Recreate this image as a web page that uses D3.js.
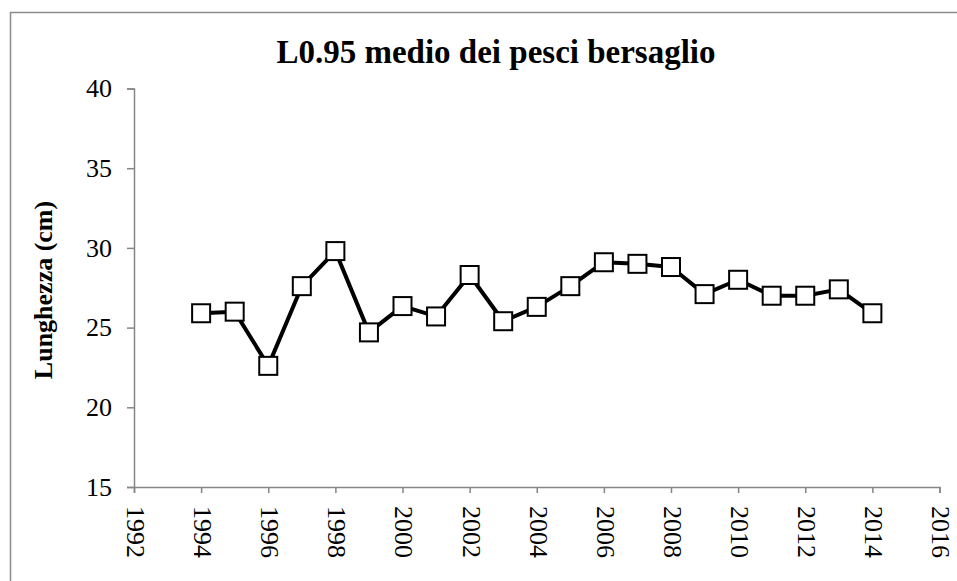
<!DOCTYPE html>
<html>
<head>
<meta charset="utf-8">
<script src="https://cdn.jsdelivr.net/npm/d3@7"></script>
<style>
  body { margin: 0; background: #fff; }
  text { font-family: "Liberation Serif", "Times New Roman", serif; }
</style>
</head>
<body>
<svg id="chart" width="957" height="581"></svg>
<script>
var years = [1994, 1995, 1996, 1997, 1998, 1999, 2000, 2001, 2002, 2003, 2004,
             2005, 2006, 2007, 2008, 2009, 2010, 2011, 2012, 2013, 2014]
var lengths = [25.9, 26.0, 22.6, 27.6, 29.8, 24.7, 26.35, 25.7, 28.3, 25.4, 26.3,
               27.6, 29.1, 29.0, 28.8, 27.1, 28.0, 27.0, 27.0, 27.4, 25.9]
var xTicks = d3.range(1992, 2017, 2)
var yTicks = [15, 20, 25, 30, 35, 40]

var svg = d3.select('#chart')

// chart frame
svg.append('rect')
   .attr('x', 10.5).attr('y', 12.5)
   .attr('width', 960).attr('height', 600)
   .attr('fill', 'none')
   .attr('stroke', '#8c8c8c')
   .attr('stroke-width', 1.5)

var x = d3.scaleLinear().domain([1992, 2016]).range([134, 939.5])
var y = d3.scaleLinear().domain([15, 40]).range([487, 88.5])

var axisColor = '#868686'

var yAxis = svg.append('g')
  .attr('transform', 'translate(' + x(1992) + ',0)')
  .call(d3.axisLeft(y).tickValues(yTicks).tickSize(7).tickPadding(15))
yAxis.select('.domain').attr('stroke', axisColor).attr('stroke-width', 1.5)
yAxis.selectAll('.tick line').attr('stroke', axisColor).attr('stroke-width', 1.5)
yAxis.selectAll('.tick text')
  .attr('font-size', 26)
  .attr('fill', '#000')

var xAxis = svg.append('g')
  .attr('transform', 'translate(0,' + y(15) + ')')
  .call(d3.axisBottom(x).tickValues(xTicks).tickFormat(d3.format('d')).tickSize(6))
xAxis.select('.domain').attr('stroke', axisColor).attr('stroke-width', 1.5)
xAxis.selectAll('.tick line').attr('stroke', axisColor).attr('stroke-width', 1.5)
xAxis.selectAll('.tick text')
  .attr('font-size', 26)
  .attr('fill', '#000')
  .attr('text-anchor', 'start')
  .attr('dy', '0.33em')
  .attr('transform', 'translate(1,19) rotate(90)')
  .attr('x', 0).attr('y', 0)

var points = years.map(function (d, i) { return [d, lengths[i]] })

var line = d3.line()
  .x(function (d) { return x(d[0]) })
  .y(function (d) { return y(d[1]) })

svg.append('path')
   .datum(points)
   .attr('d', line)
   .attr('fill', 'none')
   .attr('stroke', '#000')
   .attr('stroke-width', 4)
   .attr('stroke-linejoin', 'round')

var size = 18
svg.append('g').selectAll('rect')
   .data(points)
   .enter().append('rect')
   .attr('x', function (d) { return x(d[0]) - size / 2 })
   .attr('y', function (d) { return y(d[1]) - size / 2 })
   .attr('width', size).attr('height', size)
   .attr('fill', '#fff')
   .attr('stroke', '#000')
   .attr('stroke-width', 2)

svg.append('text')
   .attr('x', 496).attr('y', 63)
   .attr('text-anchor', 'middle')
   .attr('font-size', 33)
   .attr('font-weight', 'bold')
   .text('L0.95 medio dei pesci bersaglio')

svg.append('text')
   .attr('transform', 'translate(52,290) rotate(-90)')
   .attr('text-anchor', 'middle')
   .attr('font-size', 26)
   .attr('font-weight', 'bold')
   .text('Lunghezza (cm)')
</script>
</body>
</html>
